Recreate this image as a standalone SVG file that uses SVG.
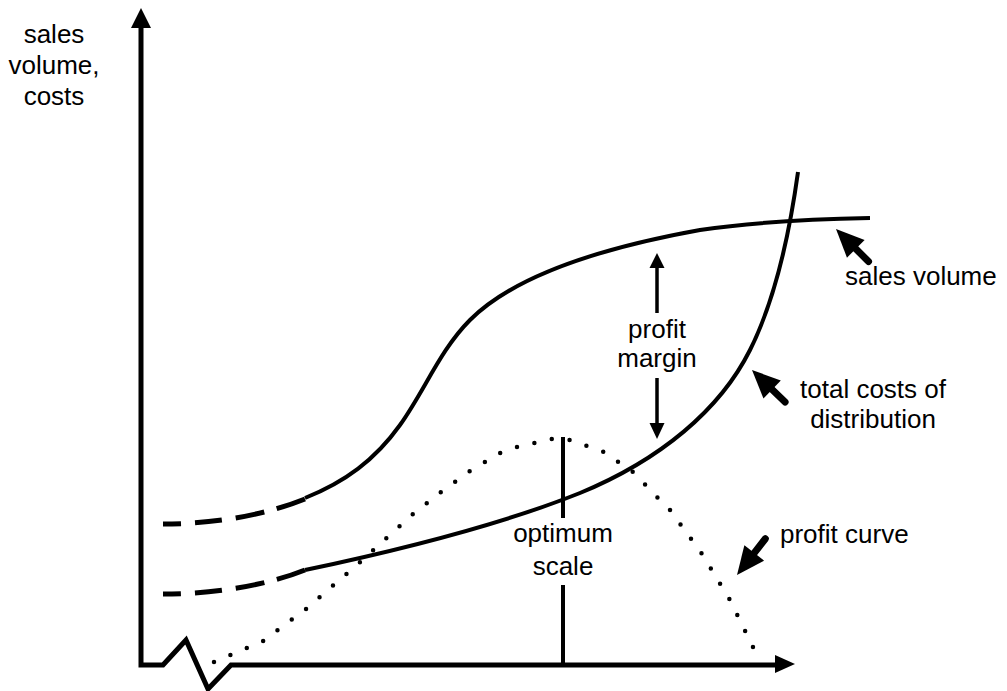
<svg xmlns="http://www.w3.org/2000/svg" width="1007" height="691" viewBox="0 0 1007 691">
  <style>
    .lbl { font-family: "Liberation Sans", Arial, sans-serif; font-size: 26px; fill: #000; }
    .mid { text-anchor: middle; }
    .axis { fill: none; stroke: #000; stroke-width: 5; stroke-linejoin: miter; }
    .curve { fill: none; stroke: #000; stroke-width: 4; }
    .dash { fill: none; stroke: #000; stroke-width: 5; stroke-dasharray: 18 14 27 14 29 13 30; }
    .dots { fill: none; stroke: #000; stroke-width: 4.5; stroke-linecap: round; stroke-dasharray: 0 17.83; }
    .thin { fill: none; stroke: #000; stroke-width: 3.5; }
    .bar { fill: none; stroke: #000; stroke-width: 4; }
  </style>
  <defs>
    <!-- thick pointer arrow, tip at origin, shaft running along +x -->
    <g id="pointer">
      <line x1="24" y1="0" x2="46" y2="0" stroke="#000" stroke-width="7" stroke-linecap="round"/>
      <polygon points="0,0 28,-12.5 28,12.5" fill="#000"/>
    </g>
  </defs>
  <rect width="1007" height="691" fill="#fff"/>

  <!-- axes -->
  <g id="axes">
    <path class="axis" d="M141,26 L141,665 L163,665 L186,640 L208,689 L231,665 L777,665"/>
    <polygon points="141,8 131,28 151,28" fill="#000"/>
    <polygon points="795,664 775,655 775,673" fill="#000"/>
  </g>

  <g id="connectors">
    <!-- sales volume curve -->
    <g id="sales-volume-curve">
      <path class="dash" d="M163,524 C215,524 265,515 305,499"/>
      <path class="curve" d="M305,498 C345,482 375,460 400,425 C425,390 440,350 470,320 C515,275 600,248 700,230 C760,221 820,219 870,218"/>
    </g>
    <!-- total costs of distribution curve -->
    <g id="total-costs-curve">
      <path class="dash" d="M163,594 C212,594 265,586 305,570"/>
      <path class="curve" d="M305,570 C400,550 500,525 580,493 C660,460 720,410 750,350 C775,300 790,230 798,172"/>
    </g>
    <!-- profit curve -->
    <path id="profit-curve" class="dots" d="M214,662 L263,641 L306,609 L359,563 L413,514 L441,492 L470,471 L500,453 L517,447 L552,439 L570,440 L604,452 L633,472 L658,498 L670,510 L702,554 L730,600 L753,647"/>
    <!-- optimum scale marker -->
    <g id="optimum-line">
      <line class="bar" x1="563" y1="437" x2="563" y2="518"/>
      <line class="bar" x1="563" y1="585" x2="563" y2="665"/>
    </g>
    <!-- profit margin double arrow -->
    <g id="profit-margin-arrows">
      <line class="thin" x1="657" y1="266" x2="657" y2="313"/>
      <polygon points="657,253 649.5,268 664.5,268" fill="#000"/>
      <line class="thin" x1="657" y1="378" x2="657" y2="425"/>
      <polygon points="657,439 649.5,423 664.5,423" fill="#000"/>
    </g>
    <!-- label pointers -->
    <use href="#pointer" transform="translate(836,229) rotate(45)"/>
    <use href="#pointer" transform="translate(752,370) rotate(44)"/>
    <use href="#pointer" transform="translate(737,575) rotate(-52)"/>
  </g>

  <!-- labels -->
  <g id="y-axis-label">
    <text class="lbl mid" x="54" y="43">sales</text>
    <text class="lbl mid" x="54" y="74">volume,</text>
    <text class="lbl mid" x="54" y="105">costs</text>
  </g>
  <g id="profit-margin-label">
    <text class="lbl mid" x="657" y="338">profit</text>
    <text class="lbl mid" x="657" y="367">margin</text>
  </g>
  <g id="optimum-scale-label">
    <text class="lbl mid" x="563" y="542">optimum</text>
    <text class="lbl mid" x="563" y="575">scale</text>
  </g>
  <g id="sales-volume-label">
    <text class="lbl" x="845" y="285">sales volume</text>
  </g>
  <g id="total-costs-label">
    <text class="lbl mid" x="873" y="398">total costs of</text>
    <text class="lbl mid" x="873" y="428">distribution</text>
  </g>
  <g id="profit-curve-label">
    <text class="lbl" x="780" y="543">profit curve</text>
  </g>
</svg>
